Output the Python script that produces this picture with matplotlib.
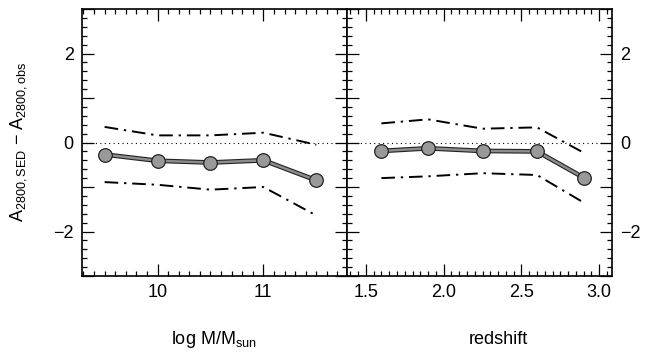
import matplotlib
matplotlib.use("Agg")
import matplotlib.pyplot as plt
from matplotlib.ticker import MultipleLocator, FuncFormatter

plt.rcParams['font.family'] = ['Liberation Sans', 'DejaVu Sans']
plt.rcParams['mathtext.fontset'] = 'custom'
plt.rcParams['mathtext.rm'] = 'Liberation Sans'
plt.rcParams['mathtext.it'] = 'Liberation Sans'

# Left panel: stellar mass bins
mass = [9.5, 10.0, 10.5, 11.0, 11.5]
mass_median = [-0.27, -0.41, -0.45, -0.40, -0.85]
mass_upper = [0.35, 0.16, 0.16, 0.22, -0.05]
mass_lower = [-0.89, -0.95, -1.06, -1.00, -1.64]

# Right panel: redshift bins
zbin = [1.6, 1.9, 2.25, 2.6, 2.9]
z_median = [-0.19, -0.13, -0.19, -0.20, -0.79]
z_upper = [0.43, 0.52, 0.31, 0.34, -0.23]
z_lower = [-0.80, -0.76, -0.69, -0.73, -1.35]

W, H = 649, 352
fig = plt.figure(figsize=(W/100, H/100), dpi=100)
x0, xm, x1 = 82, 347, 612
ytop, ybot = 9, 276
axL = fig.add_axes([x0/W, 1-ybot/H, (xm-x0)/W, (ybot-ytop)/H])
axR = fig.add_axes([xm/W, 1-ybot/H, (x1-xm)/W, (ybot-ytop)/H])

dashdot = (0, (7, 3, 1.2, 3))

def draw(ax, x, med, up, lo, xlim):
    ax.axhline(0, color='black', lw=0.8, ls=(0, (1, 3)), zorder=1)
    ax.plot(x, up, color='black', lw=1.4, ls=dashdot, zorder=2)
    ax.plot(x, lo, color='black', lw=1.4, ls=dashdot, zorder=2)
    ax.plot(x, med, color='#222222', lw=3.4, solid_capstyle='round', zorder=3)
    ax.plot(x, med, color='#8c8c8c', lw=1.8, solid_capstyle='round', zorder=4)
    ax.plot(x, med, 'o', ms=9.8, mfc='#999999', mec='#222222', mew=0.9, zorder=5)
    ax.set_xlim(*xlim)
    ax.set_ylim(-3, 3)
    ax.yaxis.set_major_locator(MultipleLocator(1))
    ax.yaxis.set_minor_locator(MultipleLocator(0.2))
    ax.tick_params(which='both', direction='in', top=True, right=True,
                   labelsize=13, width=0.9, pad=6)
    ax.tick_params(which='major', length=8.5)
    ax.tick_params(which='minor', length=3.5)
    for s in ax.spines.values():
        s.set_linewidth(1.2)

draw(axL, mass, mass_median, mass_upper, mass_lower, (9.286, 11.79))
draw(axR, zbin, z_median, z_upper, z_lower, (1.379, 3.082))

def fmt_y(v, p):
    if abs(v + 2) < 1e-6:
        return '\u22122'
    if abs(v - 2) < 1e-6:
        return '2'
    if abs(v) < 1e-6:
        return '0'
    return ''

axL.xaxis.set_major_locator(MultipleLocator(1))
axL.xaxis.set_minor_locator(MultipleLocator(0.1))
axL.xaxis.set_major_formatter(FuncFormatter(lambda v, p: f"{v:.0f}"))
axL.yaxis.set_major_formatter(FuncFormatter(fmt_y))

axR.xaxis.set_major_locator(MultipleLocator(0.5))
axR.xaxis.set_minor_locator(MultipleLocator(0.05))
axR.xaxis.set_major_formatter(FuncFormatter(lambda v, p: f"{v:.1f}"))
axR.yaxis.set_major_formatter(FuncFormatter(fmt_y))
axR.tick_params(axis='y', labelleft=False, labelright=True)

fig.text(19/W, 1-142/H, 'A$_{\\mathregular{2800,SED}}$ \u2212 A$_{\\mathregular{2800,obs}}$',
         rotation=90, ha='center', va='center', fontsize=13)
fig.text(214/W, 1-339/H, r'log M/M$\mathregular{_{sun}}$', ha='center', va='center', fontsize=13)
fig.text(498/W, 1-339/H, 'redshift', ha='center', va='center', fontsize=13)

fig.savefig('out.png', dpi=100)
